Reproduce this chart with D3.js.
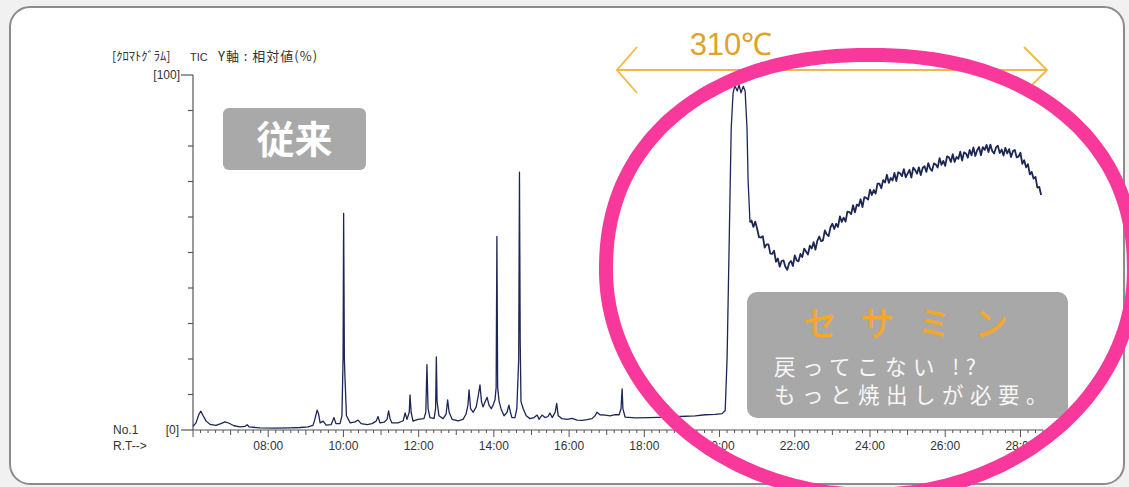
<!DOCTYPE html>
<html><head><meta charset="utf-8">
<script src="https://cdn.jsdelivr.net/npm/d3@7/dist/d3.min.js"></script>
<style>body{margin:0;background:#f1f1f1;} svg{display:block}</style>
</head><body><svg id="c" width="1129" height="487"></svg>
<script>
// ---- data (retention time in minutes, relative intensity %) ----
const runTimes = [6.00,6.08,6.16,6.21,6.27,6.35,6.45,6.61,6.74,6.85,6.96,7.09,7.25,7.38,7.44,7.49,7.78,8.18,8.58,8.85,9.06,9.19,9.24,9.30,9.34,9.38,9.46,9.54,9.67,9.75,9.80,9.91,9.96,9.99,10.005,10.025,10.04,10.08,10.18,10.31,10.39,10.47,10.63,10.76,10.87,10.92,10.97,11.08,11.16,11.20,11.24,11.29,11.45,11.59,11.64,11.69,11.75,11.77,11.80,11.85,11.98,12.14,12.19,12.22,12.25,12.30,12.41,12.45,12.47,12.49,12.54,12.65,12.73,12.77,12.81,12.89,13.05,13.18,13.26,13.31,13.34,13.38,13.45,13.53,13.59,13.63,13.67,13.71,13.77,13.82,13.87,13.93,13.98,14.03,14.06,14.08,14.10,14.14,14.19,14.27,14.35,14.40,14.44,14.48,14.56,14.61,14.66,14.68,14.70,14.72,14.78,14.86,14.96,15.07,15.15,15.20,15.28,15.36,15.44,15.49,15.55,15.63,15.67,15.71,15.81,15.95,16.08,16.21,16.35,16.48,16.61,16.69,16.74,16.82,16.96,17.09,17.22,17.33,17.38,17.41,17.43,17.49,17.76,18.15,18.55,18.95,19.35,19.62,19.88,20.07,20.15,20.20,20.26,20.31,20.36,20.41,20.47,20.52,20.57,20.63,20.68,20.73,20.76,20.81];
const runValues = [1.0,2.0,4.5,5.3,4.0,2.5,1.6,1.3,1.8,2.3,1.9,1.2,0.9,1.0,1.5,0.9,0.6,0.5,0.6,0.7,0.9,1.3,3.0,5.6,4.5,2.0,2.5,1.4,1.5,3.5,1.8,1.8,4.0,20,61,20,15,4.0,2.0,2.3,2.8,1.8,1.5,1.8,2.5,3.8,2.0,2.2,3.0,5.4,3.2,2.0,2.0,2.6,4.8,3.0,5.0,9.9,5.0,2.5,3.0,3.2,5.0,18.4,6.0,3.5,3.3,6.0,20.6,8.0,4.0,3.2,4.5,8.5,5.0,3.0,2.6,3.0,4.5,7.0,11.3,6.0,5.0,6.5,10,12.7,8.0,6.5,8.0,9.2,7.0,6.0,7.0,8.5,12,54.5,12,8.0,6.0,4.0,5.0,7.0,5.0,3.5,3.5,6.0,20,72.6,25,8.0,6.0,4.0,3.2,3.5,4.2,3.0,4.2,3.5,3.8,4.8,3.5,5.0,7.5,4.0,3.2,3.0,3.3,2.8,2.7,2.9,3.2,4.0,5.0,4.3,4.2,4.0,4.3,4.3,6.0,11.6,6.0,3.6,3.4,3.5,3.6,3.8,4.0,4.3,4.4,4.6,5.5,20,55,85,95,97,95.5,97.2,95,96.8,95.5,85,70,58.5];
// bake-out section (310℃ hold), read every 0.05 min
const bakeTimes = [20.85,20.90,20.95,21.00,21.05,21.10,21.15,21.20,21.25,21.30,21.35,21.40,21.45,21.50,21.55,21.60,21.65,21.70,21.75,21.80,21.85,21.90,21.95,22.00,22.05,22.10,22.15,22.20,22.25,22.30,22.35,22.40,22.45,22.50,22.55,22.60,22.65,22.70,22.75,22.80,22.85,22.90,22.95,23.00,23.05,23.10,23.15,23.20,23.25,23.30,23.35,23.40,23.45,23.50,23.55,23.60,23.65,23.70,23.75,23.80,23.85,23.90,23.95,24.00,24.05,24.10,24.15,24.20,24.25,24.30,24.35,24.40,24.45,24.50,24.55,24.60,24.65,24.70,24.75,24.80,24.85,24.90,24.95,25.00,25.05,25.10,25.15,25.20,25.25,25.30,25.35,25.40,25.45,25.50,25.55,25.60,25.65,25.70,25.75,25.80,25.85,25.90,25.95,26.00,26.05,26.10,26.15,26.20,26.25,26.30,26.35,26.40,26.45,26.50,26.55,26.60,26.65,26.70,26.75,26.80,26.85,26.90,26.95,27.00,27.05,27.10,27.15,27.20,27.25,27.30,27.35,27.40,27.45,27.50,27.55,27.60,27.65,27.70,27.75,27.80,27.85,27.90,27.95,28.00,28.05,28.10,28.15,28.20,28.25,28.30,28.35,28.40,28.45,28.50,28.55];
const bakeValues = [59.0,57.2,58.7,56.7,54.3,54.2,54.6,51.4,52.3,52.3,49.7,49.6,50.5,47.4,48.3,46.0,47.6,47.8,46.0,45.1,47.0,47.6,46.2,49.2,47.8,47.5,49.6,48.7,51.1,50.3,49.4,51.9,51.1,52.9,50.8,53.3,54.5,53.2,53.4,56.2,55.1,54.6,57.1,58.1,56.6,58.1,57.2,60.2,58.6,59.8,58.7,61.5,61.4,60.8,63.3,61.3,63.5,63.1,65.0,62.8,65.6,65.4,64.9,67.7,66.2,67.6,66.6,69.4,69.4,68.1,70.4,69.7,71.9,69.6,71.0,70.3,72.4,70.1,72.6,72.3,71.5,73.5,71.2,72.2,73.3,71.1,73.9,73.2,72.2,74.0,71.8,73.8,74.3,72.7,75.2,73.6,73.0,75.1,74.8,73.9,76.6,74.7,75.8,74.4,77.1,76.8,75.5,77.7,75.5,76.9,76.4,78.4,75.9,78.2,77.9,76.7,78.9,77.4,79.6,77.2,78.8,79.7,77.4,79.7,78.9,80.3,78.3,80.4,78.6,77.9,79.6,80.1,78.0,79.0,77.3,79.5,77.9,79.1,76.9,78.5,78.9,76.8,77.0,78.1,75.0,76.0,74.0,74.9,72.0,72.7,70.8,71.3,68.3,68.5,66.2];
const xTickValues = [8,10,12,14,16,18,20,22,24,26,28];
const xTickLabels = ["08:00","10:00","12:00","14:00","16:00","18:00","20:00","22:00","24:00","26:00","28:00"];
const yTickValues = [0,10,20,30,40,50,60,70,80,90,100];
const yEndLabels = ["[0]","[100]"];
const headerTexts = ["[ｸﾛﾏﾄｸﾞﾗﾑ]","TIC","Y軸 : 相対値(%)"];
const tempLabel = "310℃";
const oldLabel = "従来";
const compoundLabel = "セサミン";
const noteLines = ["戻ってこない !?","もっと焼出しが必要。"];

// ---- drawing ----
const svg = d3.select("#c");
const W = 1129, H = 487;
svg.append("rect").attr("x",0).attr("y",0).attr("width",W).attr("height",H).attr("fill","#f1f1f1");
svg.append("rect").attr("x",10).attr("y",7).attr("width",1114).attr("height",477).attr("rx",20)
  .attr("fill","#fff").attr("stroke","#8c8c8c").attr("stroke-width",2);

const x = d3.scaleLinear().domain([6, 28.6]).range([193, 1043]);
const y = d3.scaleLinear().domain([0, 100]).range([430, 75]);
const jpFont = "'Noto Sans CJK JP', sans-serif";
const axFont = "'Liberation Sans', Arial, sans-serif";

// header
const hx = [112, 190, 218], hs = [12.5, 11, 13], hl = [0, 0, 1];
headerTexts.forEach((t,i)=> svg.append("text").attr("x",hx[i]).attr("y",61).text(t)
  .attr("letter-spacing", hl[i])
  .attr("font-family", i===1 ? axFont : jpFont).attr("font-size", hs[i]).attr("fill","#333"));

// y axis
const gy = svg.append("g");
gy.append("line").attr("x1",x(6)).attr("x2",x(6)).attr("y1",y(100)).attr("y2",y(0)).attr("stroke","#777").attr("stroke-width",1.5);
gy.selectAll("line.t").data(yTickValues).enter().append("line").attr("class","t")
  .attr("x1", d => (d===0||d===100) ? x(6)-12 : x(6)-5).attr("x2", x(6))
  .attr("y1", d=>y(d)).attr("y2", d=>y(d)).attr("stroke","#555").attr("stroke-width",1.2);
gy.append("text").attr("x",x(6)-13).attr("y",y(100)+4).attr("text-anchor","end").text(yEndLabels[1])
  .attr("font-family",axFont).attr("font-size",12).attr("fill","#333");
gy.append("text").attr("x",x(6)-14).attr("y",y(0)+4).attr("text-anchor","end").text(yEndLabels[0])
  .attr("font-family",axFont).attr("font-size",12).attr("fill","#333");
svg.append("text").attr("x",113).attr("y",434).text("No.1").attr("font-family",axFont).attr("font-size",12).attr("fill","#333");
svg.append("text").attr("x",113).attr("y",450).text("R.T-->").attr("font-family",axFont).attr("font-size",12).attr("fill","#333");

// x axis
const gx = svg.append("g");
gx.append("line").attr("x1",x(6)).attr("x2",x(28.6)).attr("y1",y(0)).attr("y2",y(0)).attr("stroke","#555").attr("stroke-width",1.2);
const minor = d3.range(6, 28.61, 0.2);
gx.selectAll("line.m").data(minor).enter().append("line").attr("class","m")
  .attr("x1",d=>x(d)).attr("x2",d=>x(d)).attr("y1",y(0))
  .attr("y2", d => { const r = Math.round(d*5)%5===0 ? (Math.round(d)%2===0 ? 7 : 5) : 3; return y(0)+r; })
  .attr("stroke","#555").attr("stroke-width",1);
gx.selectAll("text").data(xTickValues).enter().append("text")
  .attr("x",d=>x(d)).attr("y",450).attr("text-anchor","middle").text((d,i)=>xTickLabels[i])
  .attr("font-family",axFont).attr("font-size",12).attr("fill","#333");

// trace
const line = d3.line().x(d=>x(d[0])).y(d=>y(d[1]));
const runPts = runTimes.map((t,i)=>[t, runValues[i]]);
const bakePts = [[runTimes[runTimes.length-1], runValues[runValues.length-1]]].concat(bakeTimes.map((t,i)=>[t, bakeValues[i]]));
svg.append("path").attr("d", line(runPts)).attr("fill","none").attr("stroke","#1c2756").attr("stroke-width",1.3).attr("stroke-linejoin","round");
svg.append("path").attr("d", line(bakePts)).attr("fill","none").attr("stroke","#1c2756").attr("stroke-width",1.8).attr("stroke-linejoin","round");

// 従来 box
svg.append("rect").attr("x",223).attr("y",108).attr("width",143).attr("height",62).attr("rx",6).attr("fill","#a9a9a9");
svg.append("text").attr("x",294.5).attr("y",153).attr("text-anchor","middle").text(oldLabel)
  .attr("font-family",jpFont).attr("font-weight","bold").attr("font-size",38).attr("fill","#fff");

// セサミン box
svg.append("rect").attr("x",747).attr("y",292).attr("width",321).attr("height",126).attr("rx",10).attr("fill","#a8a8a8");
svg.append("text").attr("x",803).attr("y",336).text(compoundLabel).attr("letter-spacing",23)
  .attr("font-family",jpFont).attr("font-weight",500).attr("font-size",34).attr("fill","#f3a72e");
noteLines.forEach((t,i)=> svg.append("text").attr("x",774).attr("y",375+i*28).text(t).attr("letter-spacing",6.5)
  .attr("font-family",jpFont).attr("font-size",21.5).attr("fill","#f7f7f7"));

// arrow 310℃
const orange = "#f0b848";
svg.append("line").attr("x1",617).attr("x2",1047).attr("y1",70).attr("y2",70).attr("stroke",orange).attr("stroke-width",1.8);
svg.append("path").attr("d","M637,47 L617,70 L637,93").attr("fill","none").attr("stroke",orange).attr("stroke-width",1.8);
svg.append("path").attr("d","M1024,47 L1047,70 L1024,93").attr("fill","none").attr("stroke",orange).attr("stroke-width",1.8);
svg.append("text").attr("x",731).attr("y",55).attr("text-anchor","middle").text(tempLabel)
  .attr("font-family",axFont).attr("font-size",31).attr("fill","#e2a12a");

// pink hand-drawn style loop (flatter top, rounder bottom)
const cx = 870, cy = 270, rx = 264, ryTop = 215, ryBot = 225, nTop = 2.2;
const loopPts = d3.range(0, 361, 2).map(a => {
  const r = a * Math.PI / 180, c = Math.cos(r), s = Math.sin(r);
  if (s < 0) {
    return [cx + rx * Math.sign(c) * Math.pow(Math.abs(c), 2/nTop), cy - ryTop * Math.pow(Math.abs(s), 2/nTop)];
  }
  return [cx + rx * c, cy + ryBot * s];
});
svg.append("path").attr("d", d3.line().curve(d3.curveCardinalClosed)(loopPts))
  .attr("fill","none").attr("stroke","#f8399b").attr("stroke-width",14);
</script></body></html>
